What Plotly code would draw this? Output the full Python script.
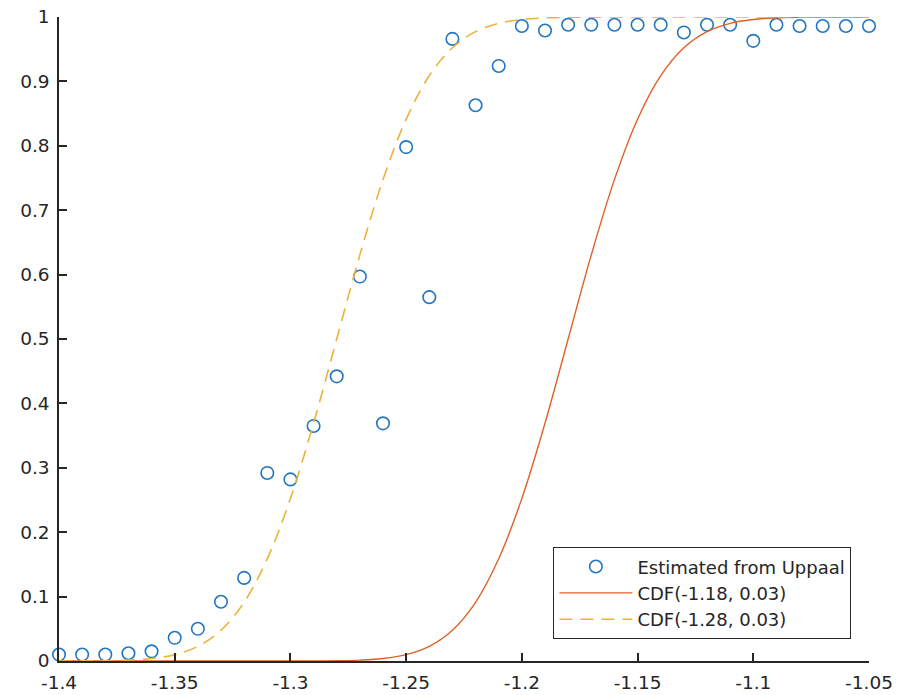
import plotly.graph_objects as go

# Estimated from Uppaal (sample points)
x_est = [-1.40, -1.39, -1.38, -1.37, -1.36, -1.35, -1.34, -1.33, -1.32, -1.31,
         -1.30, -1.29, -1.28, -1.27, -1.26, -1.25, -1.24, -1.23, -1.22, -1.21,
         -1.20, -1.19, -1.18, -1.17, -1.16, -1.15, -1.14, -1.13, -1.12, -1.11,
         -1.10, -1.09, -1.08, -1.07, -1.06, -1.05]
y_est = [0.010, 0.010, 0.010, 0.012, 0.015, 0.036, 0.050, 0.092, 0.129, 0.292,
         0.282, 0.365, 0.442, 0.597, 0.369, 0.798, 0.565, 0.966, 0.863, 0.924,
         0.986, 0.979, 0.988, 0.988, 0.988, 0.988, 0.988, 0.976, 0.988, 0.988,
         0.963, 0.988, 0.986, 0.986, 0.986, 0.986]

# Curve sample positions
x_cdf = x_est
# CDF(-1.18, 0.03)
y_cdf_118 = [0, 0, 0, 0, 0, 0, 0, 0, 0, 0,
             0.00003, 0.00012, 0.00043, 0.00135, 0.00383, 0.0098, 0.02275, 0.0478, 0.0912, 0.1587,
             0.2525, 0.3694, 0.5, 0.6306, 0.7475, 0.8413, 0.9088, 0.9522, 0.97725, 0.9902,
             0.99617, 0.99865, 0.99957, 0.99988, 0.99997, 1.0]
# CDF(-1.28, 0.03)
y_cdf_128 = [0.00003, 0.00012, 0.00043, 0.00135, 0.00383, 0.0098, 0.02275, 0.0478, 0.0912, 0.1587,
             0.2525, 0.3694, 0.5, 0.6306, 0.7475, 0.8413, 0.9088, 0.9522, 0.97725, 0.9902,
             0.99617, 0.99865, 0.99957, 0.99988, 0.99997, 1.0, 1.0, 1.0, 1.0, 1.0,
             1.0, 1.0, 1.0, 1.0, 1.0, 1.0]

x_ticks = [-1.4, -1.35, -1.3, -1.25, -1.2, -1.15, -1.1, -1.05]
x_tick_labels = ["-1.4", "-1.35", "-1.3", "-1.25", "-1.2", "-1.15", "-1.1", "-1.05"]
y_ticks = [0, 0.1, 0.2, 0.3, 0.4, 0.5, 0.6, 0.7, 0.8, 0.9, 1]
y_tick_labels = ["0", "0.1", "0.2", "0.3", "0.4", "0.5", "0.6", "0.7", "0.8", "0.9", "1"]

fig = go.Figure()
fig.add_trace(go.Scatter(
    x=x_est, y=y_est, mode="markers", name="Estimated from Uppaal",
    marker=dict(symbol="circle-open", size=12.5, color="#2176C1", line=dict(width=1.6)),
    cliponaxis=False))
fig.add_trace(go.Scatter(
    x=x_cdf, y=y_cdf_118, mode="lines", name="CDF(-1.18, 0.03)",
    line=dict(color="#E0602A", width=1.4, shape="spline")))
fig.add_trace(go.Scatter(
    x=x_cdf, y=y_cdf_128, mode="lines", name="CDF(-1.28, 0.03)",
    line=dict(color="#EDB23A", width=1.6, shape="spline", dash="13px,8px")))

axis_font = dict(family="DejaVu Sans", size=18.5, color="#262626")
fig.update_layout(
    width=898, height=695,
    margin=dict(l=59, r=29, t=17, b=34),
    paper_bgcolor="white", plot_bgcolor="white",
    font=dict(family="DejaVu Sans", size=18.5, color="#262626"),
    showlegend=True,
    legend=dict(x=0.978, y=0.034, xanchor="right", yanchor="bottom",
                bgcolor="white", bordercolor="#262626", borderwidth=1.2,
                font=dict(family="DejaVu Sans", size=18, color="#262626"),
                itemwidth=73, tracegroupgap=0),
    xaxis=dict(range=[-1.4, -1.05], tickvals=x_ticks, ticktext=x_tick_labels,
               showgrid=False, zeroline=False, showline=True, linecolor="#262626",
               linewidth=1.5, ticks="inside", ticklen=8, tickwidth=1.5,
               tickcolor="#262626", tickfont=axis_font, ticklabelstandoff=4,
               automargin=False),
    yaxis=dict(range=[0, 1], tickvals=y_ticks, ticktext=y_tick_labels,
               showgrid=False, zeroline=False, showline=True, linecolor="#262626",
               linewidth=1.5, ticks="inside", ticklen=8, tickwidth=1.5,
               tickcolor="#262626", tickfont=axis_font, ticklabelstandoff=4,
               automargin=False),
)

fig.write_html("out.html")
